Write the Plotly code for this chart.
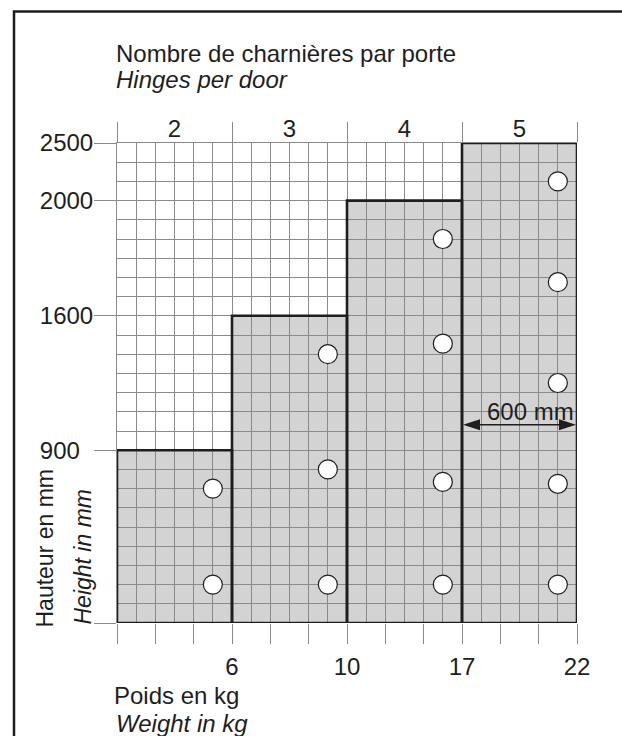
import plotly.graph_objects as go

# ---------------- data ----------------
hinges_per_door = [2, 3, 4, 5]             # top labels, one per column
weight_kg = [6, 10, 17, 22]                # labels at right edge of each column
door_height_mm = [900, 1600, 2000, 2500]   # max door height for each column

# schematic grid: one unit = one grid square (24 wide x 25 high)
col_width_sq = 6
height_rows = [9, 16, 22, 25]              # grid row of each height label
hinge_x_sq = [5, 11, 17, 23]               # hinge column position (grid squares)
hinge_rows = [
    [2, 7],
    [2, 8, 14],
    [2, 7.35, 14.55, 20],
    [2, 7.25, 12.5, 17.75, 23],
]
door_width_label = "600 mm"
door_width_arrow_row = 10.33

GRID_W = len(hinges_per_door) * col_width_sq
GRID_H = 25

# ---------------- layout constants ----------------
W, H = 622, 736
L, R, T, B = 117, 45, 143, 113
PW, PH = W - L - R, H - T - B
FONT = "Liberation Sans, Arial, Helvetica, sans-serif"
FS = 24
GRID_C = "#8a8a8a"
INK = "#1e1e1e"
FILL = "#d3d3d3"


def px(xp):
    return (xp - L) / PW


def py(yp):
    return (H - B - yp) / PH


col_left = [i * col_width_sq for i in range(len(hinges_per_door))]
col_center = [c + col_width_sq / 2 for c in col_left]
col_right = [c + col_width_sq for c in col_left]

fig = go.Figure()

# outlines of the steps (bars)
fig.add_trace(go.Bar(
    x=col_center, y=height_rows, width=[col_width_sq] * len(col_center),
    marker=dict(color="rgba(0,0,0,0)", line=dict(color=INK, width=2.6)),
    hoverinfo="skip", showlegend=False,
))

# hinge circles
for hx, rows in zip(hinge_x_sq, hinge_rows):
    fig.add_trace(go.Scatter(
        x=[hx] * len(rows), y=rows, mode="markers",
        marker=dict(size=19, color="white", line=dict(color=INK, width=1.2)),
        hoverinfo="skip", showlegend=False,
    ))

# invisible trace on top axis so it is drawn
fig.add_trace(go.Scatter(x=[0, GRID_W], y=[0, 0], xaxis="x2", mode="markers",
                         marker=dict(opacity=0), hoverinfo="skip", showlegend=False))

shapes = []
# gray fills below the grid
for x0, x1, h in zip(col_left, col_right, height_rows):
    shapes.append(dict(type="rect", xref="x", yref="y", x0=x0, x1=x1, y0=0, y1=h,
                       fillcolor=FILL, line=dict(width=0), layer="below"))

# 600 mm arrow across the last column
ax0, ax1 = col_left[-1], col_right[-1]
shapes.append(dict(type="line", xref="x", yref="y", x0=ax0 + 0.5, x1=ax1 - 0.5,
                   y0=door_width_arrow_row, y1=door_width_arrow_row,
                   line=dict(color=INK, width=1.5)))
shapes.append(dict(type="path", xref="x", yref="y", xsizemode="pixel", ysizemode="pixel",
                   xanchor=ax0, yanchor=door_width_arrow_row,
                   path="M1,0 L18,5.5 L18,-5.5 Z", fillcolor=INK, line=dict(width=0)))
shapes.append(dict(type="path", xref="x", yref="y", xsizemode="pixel", ysizemode="pixel",
                   xanchor=ax1, yanchor=door_width_arrow_row,
                   path="M-1,0 L-18,5.5 L-18,-5.5 Z", fillcolor=INK, line=dict(width=0)))

# outer frame (left and top sides visible)
shapes.append(dict(type="path", xref="paper", yref="paper",
                   path=f"M{px(14)},{py(760)} L{px(14)},{py(11.5)} L{px(700)},{py(11.5)}",
                   line=dict(color=INK, width=2.5)))

ann = []


def text(t, x, y, xanchor="left", yanchor="middle", angle=0, size=FS):
    ann.append(dict(text=t, x=px(x), y=py(y), xref="paper", yref="paper",
                    xanchor=xanchor, yanchor=yanchor, textangle=angle, showarrow=False,
                    font=dict(family=FONT, size=size, color=INK)))


text("Nombre de charnières par porte", 114, 53)
text("<i>Hinges per door</i>", 114, 80)
text("Hauteur en mm", 44, 630, xanchor="center", yanchor="bottom", angle=-90, size=23)
text("<i>Height in mm</i>", 82, 627, xanchor="center", yanchor="bottom", angle=-90, size=23)
text("Poids en kg", 112, 695)
text("<i>Weight in kg</i>", 114, 723)
text(door_width_label, 530, 411, xanchor="center")

# bottom ticks every 2 squares, labels at column right edges
xt = list(range(0, GRID_W + 1, 2))
xl = {r: str(w) for r, w in zip(col_right, weight_kg)}
xtext = [xl.get(v, "") for v in xt]

yt = [0] + height_rows
ytext = [""] + [str(h) + ("\u00a0\u00a0" if h == 900 else "") for h in door_height_mm]

fig.update_layout(
    width=W, height=H, margin=dict(l=L, r=R, t=T, b=B, pad=0),
    paper_bgcolor="white", plot_bgcolor="white",
    shapes=shapes, annotations=ann, bargap=0,
    font=dict(family=FONT, size=FS, color=INK),
    xaxis=dict(range=[0, GRID_W], tickmode="array", tickvals=xt, ticktext=xtext,
               ticks="outside", ticklen=20, tickcolor=GRID_C, tickwidth=1,
               showgrid=True, gridcolor=GRID_C, gridwidth=1, zeroline=False,
               showline=False, layer="below traces", ticklabelstandoff=2,
               minor=dict(dtick=1, tick0=0, showgrid=True, gridcolor=GRID_C, gridwidth=1, ticks=""),
               tickfont=dict(family=FONT, size=FS, color=INK), fixedrange=True),
    xaxis2=dict(range=[0, GRID_W], overlaying="x", side="top", tickmode="array",
                tickvals=col_center, ticktext=[str(h) for h in hinges_per_door],
                ticks="", showgrid=False, zeroline=False, showline=True,
                linecolor=GRID_C, linewidth=1, layer="below traces", ticklabelstandoff=-5,
                minor=dict(tickmode="array", tickvals=[0] + col_right, ticks="outside",
                           ticklen=20, tickcolor=GRID_C, tickwidth=1, showgrid=False),
                tickfont=dict(family=FONT, size=FS, color=INK), fixedrange=True),
    yaxis=dict(range=[0, GRID_H], tickmode="array", tickvals=yt, ticktext=ytext,
               ticks="outside", ticklen=22, tickcolor=GRID_C, tickwidth=1,
               showgrid=True, gridcolor=GRID_C, gridwidth=1, zeroline=False,
               showline=True, linecolor=GRID_C, linewidth=1, layer="below traces",
               ticklabelstandoff=-4,
               minor=dict(dtick=1, tick0=0, showgrid=True, gridcolor=GRID_C, gridwidth=1, ticks=""),
               tickfont=dict(family=FONT, size=FS, color=INK), fixedrange=True),
)

fig.write_html("out.html", config={"displayModeBar": False, "staticPlot": True},
               post_script="document.body.style.margin='0';document.body.style.overflow='hidden';")
